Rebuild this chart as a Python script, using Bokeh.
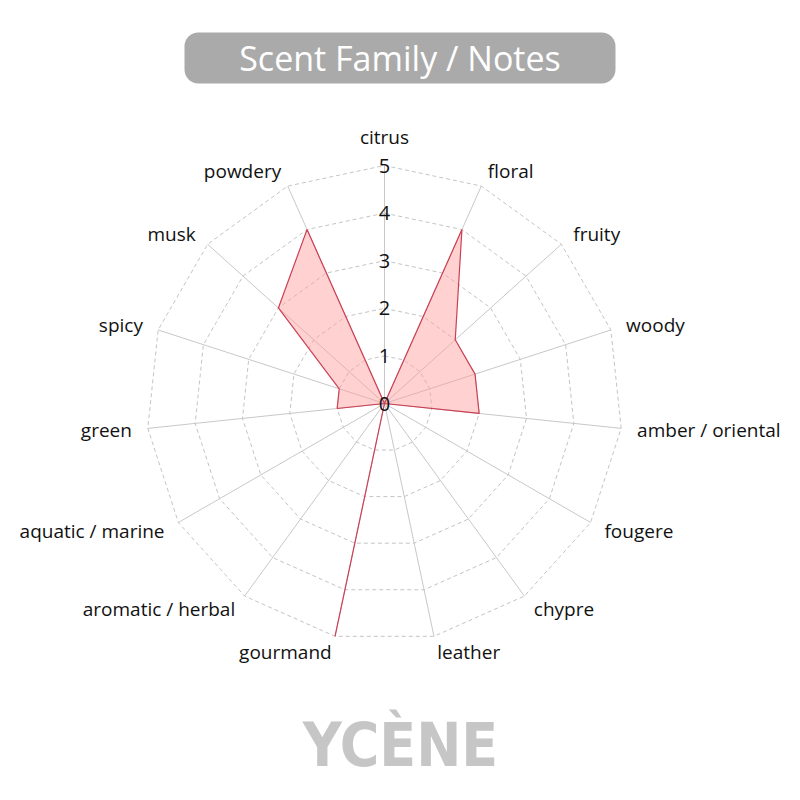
import math
from bokeh.plotting import figure
from bokeh.models import Range1d, ColumnDataSource
from bokeh.core.properties import value
from bokeh.embed import file_html
from bokeh.resources import INLINE

# ---- data ----
categories = ["citrus", "floral", "fruity", "woody", "amber / oriental", "fougere",
              "chypre", "leather", "gourmand", "aromatic / herbal", "aquatic / marine",
              "green", "spicy", "musk", "powdery"]
scores = [0, 4, 2, 2, 2, 0, 0, 0, 5, 0, 0, 1, 1, 3, 4]
tick_values = [0, 1, 2, 3, 4, 5]
title_text = "Scent Family / Notes"
brand_text = "YCÈNE"

# ---- geometry ----
W = H = 784
S = 47.6           # px per unit
CX, CY = 384, 403  # screen centre
r_max = max(tick_values)
n = len(categories)
angles = [2 * math.pi * i / n for i in range(n)]

def to_data(X, Y):
    return (X - CX) / S, (CY - Y) / S

p = figure(width=W, height=H, output_backend="svg", toolbar_location=None,
           x_range=Range1d(-CX / S, (W - CX) / S),
           y_range=Range1d(-(H - CY) / S, CY / S),
           min_border=0, min_border_left=0, min_border_right=0,
           min_border_top=0, min_border_bottom=0)
p.axis.visible = False
p.grid.visible = False
p.outline_line_color = None
p.background_fill_color = "white"
p.border_fill_color = "white"

font = value("Open Sans")

# rings
for t in tick_values[1:]:
    xs = [t * math.sin(a) for a in angles]
    ys = [t * math.cos(a) for a in angles]
    xs.append(xs[0]); ys.append(ys[0])
    p.line(xs, ys, line_color="#c4c4c4", line_width=1, line_dash="4 3")

# spokes
p.segment(x0=[0] * n, y0=[0] * n,
          x1=[r_max * math.sin(a) for a in angles],
          y1=[r_max * math.cos(a) for a in angles],
          line_color="#c8c8c8", line_width=1)

# data polygon
px = [v * math.sin(a) for v, a in zip(scores, angles)]
py = [v * math.cos(a) for v, a in zip(scores, angles)]
p.patch(px, py, fill_color="#ff9a9a", fill_alpha=0.45,
        line_color="#cc4055", line_width=1.2)

# tick labels
p.text(x=[0] * len(tick_values), y=tick_values, text=[str(t) for t in tick_values],
       text_font=font, text_font_size="20px", text_color="#111111",
       text_align="center", text_baseline="middle")

# category labels
RL = 254 / S
lx, ly, la, lb = [], [], [], []
for c, a in zip(categories, angles):
    deg = round(math.degrees(a)) % 360
    lx.append(RL * math.sin(a))
    ly.append(RL * math.cos(a))
    if deg == 0:
        la.append("center"); lb.append("bottom")
    elif deg == 180:
        la.append("center"); lb.append("top")
    elif deg < 180:
        la.append("left"); lb.append("middle")
    else:
        la.append("right"); lb.append("middle")
src = ColumnDataSource(dict(x=lx, y=ly, text=categories, align=la, base=lb))
p.text(x="x", y="y", text="text", source=src, text_align="align",
       text_baseline="base", text_font=font, text_font_size="19px",
       text_color="#111111")

# title box
tx, ty = to_data(399.5, 57.5)
p.rect(x=[tx], y=[ty], width=431, height=51, width_units="screen",
       height_units="screen", fill_color="#aaaaaa", line_color=None,
       border_radius=14)
p.text(x=[tx], y=[ty], text=[title_text], text_font=font, text_font_size="34px",
       text_color="white", text_align="center", text_baseline="middle")

# watermark
bx, by = to_data(400, 744)
p.text(x=[bx], y=[by], text=[brand_text], text_font=value("DejaVu Sans Condensed"),
       text_font_style="bold", text_font_size="60px", text_color="#c6c6c6",
       text_align="center", text_baseline="middle")

open("out.html", "w").write(file_html(p, INLINE))
